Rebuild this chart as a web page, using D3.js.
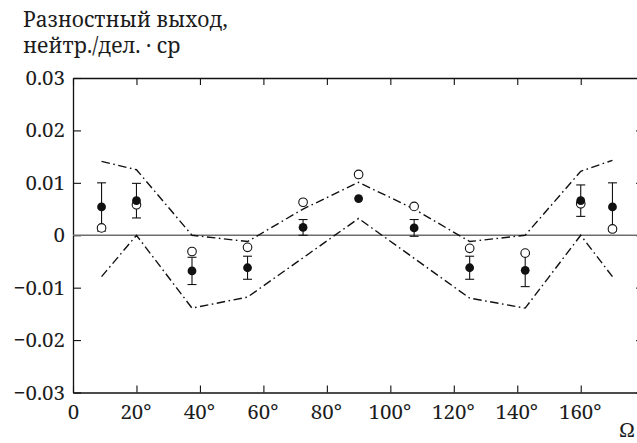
<!DOCTYPE html>
<html>
<head>
<meta charset="utf-8">
<script src="https://cdn.jsdelivr.net/npm/d3@7"></script>
<style>
  html, body { margin: 0; padding: 0; background: #fff; }
  svg { display: block; }
</style>
</head>
<body>
<svg id="chart" width="637" height="443"></svg>
<script>
// Scattering angle, degrees
const angles = [9, 20, 37.5, 55, 72.5, 90, 107.5, 125, 142.5, 160, 170];
// Measured difference yield (filled) and its uncertainty
const measured = [0.0054, 0.0066, -0.0068, -0.0062, 0.0015, 0.0070, 0.0014, -0.0062, -0.0067, 0.0066, 0.0054];
const measuredErr = [0.0046, 0.0033, 0.0026, 0.0022, 0.0015, 0, 0.0016, 0.0022, 0.0031, 0.0030, 0.0046];
// Calculated difference yield (open)
const calculated = [0.0014, 0.0058, -0.0031, -0.0023, 0.0063, 0.0116, 0.0055, -0.0025, -0.0034, 0.0060, 0.0012];
// Corridor bounds (dash-dot)
const upperBound = [0.0141, 0.0125, 0.0, -0.0012, 0.0050, 0.0101, 0.0050, -0.0012, 0.0, 0.0122, 0.0143];
const lowerBound = [-0.0079, 0.0, -0.0139, -0.0118, -0.0043, 0.0032, -0.0044, -0.0120, -0.0139, 0.0, -0.0079];

const xTicks = [0, 20, 40, 60, 80, 100, 120, 140, 160];
const yTicks = [0.03, 0.02, 0.01, 0, -0.01, -0.02, -0.03];
const yTickLabels = ["0.03", "0.02", "0.01", "0", "\u22120.01", "\u22120.02", "\u22120.03"];
const titleLines = ["Разностный выход,", "нейтр./дел. · ср"];
const xAxisName = "Ω";

const svg = d3.select("#chart");
const plot = { left: 73, right: 644.2, top: 78, bottom: 392.5 };

const x = d3.scaleLinear().domain([0, 180]).range([plot.left, plot.right]);
const y = d3.scaleLinear().domain([-0.03, 0.03]).range([plot.bottom, plot.top]);

const fontFamily = '"Noto Serif", "Liberation Serif", serif';
const fontSize = 20.5;
const ink = "#1c1c1c";

// Frame with inward ticks on all four sides
const axisLeft = d3.axisLeft(y).tickValues(yTicks).tickSizeInner(-8).tickSizeOuter(0).tickPadding(8)
  .tickFormat((d, i) => yTickLabels[i]);
const axisBottom = d3.axisBottom(x).tickValues(xTicks).tickSizeInner(-7).tickSizeOuter(0).tickPadding(12)
  .tickFormat(d => d === 0 ? "0" : d + "°");
const axisTop = d3.axisTop(x).tickValues(xTicks.concat([180])).tickSizeInner(-7).tickSizeOuter(0).tickFormat("");
const axisRight = d3.axisRight(y).tickValues(yTicks).tickSizeInner(-8).tickSizeOuter(0).tickFormat("");

function styleAxis(g) {
  g.select(".domain").attr("stroke", "#111").attr("stroke-width", 1.3);
  g.selectAll(".tick line").attr("stroke", "#111").attr("stroke-width", 1.1);
  g.selectAll(".tick text")
    .style("font-family", fontFamily)
    .style("font-size", fontSize + "px")
    .attr("fill", ink);
}

svg.append("g").attr("transform", `translate(${plot.left},0)`).call(axisLeft).call(styleAxis);
svg.append("g").attr("transform", `translate(0,${plot.bottom})`).call(axisBottom).call(styleAxis)
  .selectAll(".tick text").attr("dx", d => d === 0 ? 0 : -1);
svg.append("g").attr("transform", `translate(0,${plot.top})`).call(axisTop).call(styleAxis);
svg.append("g").attr("transform", `translate(${plot.right},0)`).call(axisRight).call(styleAxis);

// Zero line
svg.append("line")
  .attr("x1", plot.left).attr("x2", plot.right)
  .attr("y1", y(0)).attr("y2", y(0))
  .attr("stroke", "#6e6e6e").attr("stroke-width", 1.5);

// Dash-dot corridor
const line = d3.line().x(d => x(d[0])).y(d => y(d[1]));
[upperBound, lowerBound].forEach(series => {
  svg.append("path")
    .datum(angles.map((a, i) => [a, series[i]]))
    .attr("d", line)
    .attr("fill", "none")
    .attr("stroke", "#111")
    .attr("stroke-width", 1.4)
    .attr("stroke-dasharray", "8.5,3.5,1.6,3.5");
});

// Error bars with caps (skipped where the uncertainty is inside the marker)
const bars = svg.append("g").attr("stroke", "#111").attr("stroke-width", 1.1);
angles.forEach((a, i) => {
  if (!measuredErr[i]) return;
  const y1 = y(measured[i] + measuredErr[i]);
  const y2 = y(measured[i] - measuredErr[i]);
  const cx = x(a);
  bars.append("line").attr("x1", cx).attr("x2", cx).attr("y1", y1).attr("y2", y2);
  bars.append("line").attr("x1", cx - 4.5).attr("x2", cx + 4.5).attr("y1", y1).attr("y2", y1);
  bars.append("line").attr("x1", cx - 4.5).attr("x2", cx + 4.5).attr("y1", y2).attr("y2", y2);
});

// Open circles: calculated
svg.append("g").selectAll("circle")
  .data(angles)
  .join("circle")
  .attr("cx", d => x(d))
  .attr("cy", (d, i) => y(calculated[i]))
  .attr("r", 4.3)
  .attr("fill", "#fff")
  .attr("stroke", "#111")
  .attr("stroke-width", 1.1);

// Filled circles: measured
svg.append("g").selectAll("circle")
  .data(angles)
  .join("circle")
  .attr("cx", d => x(d))
  .attr("cy", (d, i) => y(measured[i]))
  .attr("r", 4.4)
  .attr("fill", "#111");

// Y-axis title, two lines
svg.append("g").selectAll("text")
  .data(titleLines)
  .join("text")
  .attr("x", 23)
  .attr("y", (d, i) => 26.5 + i * 26)
  .style("font-family", fontFamily)
  .style("font-size", "21px")
  .attr("fill", ink)
  .text(d => d);

// X-axis name
svg.append("text")
  .attr("x", 627)
  .attr("y", 437)
  .attr("text-anchor", "middle")
  .style("font-family", fontFamily)
  .style("font-size", fontSize + "px")
  .attr("fill", ink)
  .text(xAxisName);
</script>
</body>
</html>
